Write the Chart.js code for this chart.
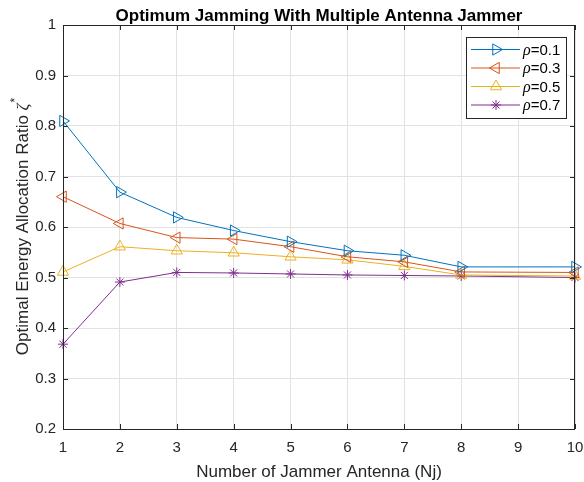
<!DOCTYPE html>
<html>
<head>
<meta charset="utf-8">
<script src="https://cdn.jsdelivr.net/npm/chart.js@4"></script>
<style>
html,body{margin:0;padding:0;background:#fff;}
#wrap{width:584px;height:482px;}
</style>
</head>
<body>
<div id="wrap"><canvas id="grafico" width="584" height="482"></canvas></div>
<script>
const antenas = [1, 2, 3, 4, 5, 6, 7, 8, 10];
const rho01 = [0.81, 0.669, 0.619, 0.593, 0.571, 0.553, 0.544, 0.521, 0.521];
const rho03 = [0.66, 0.607, 0.579, 0.576, 0.561, 0.541, 0.531, 0.511, 0.510];
const rho05 = [0.511, 0.561, 0.553, 0.549, 0.541, 0.535, 0.522, 0.505, 0.503];
const rho07 = [0.368, 0.491, 0.510, 0.509, 0.507, 0.505, 0.504, 0.503, 0.500];
const etiquetas = ["0.1", "0.3", "0.5", "0.7"];
const ticksX = [1, 2, 3, 4, 5, 6, 7, 8, 9, 10];
const ticksY = [0.2, 0.3, 0.4, 0.5, 0.6, 0.7, 0.8, 0.9, 1];

const colores = ["#0072BD", "#D95319", "#EDB120", "#7E2F8E"];
const simbolos = [
  {style: "triangle", rot: 90, r: 6.5},
  {style: "triangle", rot: -90, r: 6.5},
  {style: "triangle", rot: 0, r: 6.5},
  {style: "star", rot: 0, r: 5}
];
const series = [rho01, rho03, rho05, rho07];

const sans = "'Liberation Sans', Arial, Helvetica, sans-serif";
const ejeColor = "#262626";

function armarDataset(valores, i) {
  return {
    label: "\u03c1=" + etiquetas[i],
    data: antenas.map((n, k) => ({x: n, y: valores[k]})),
    borderColor: colores[i],
    borderWidth: 1,
    backgroundColor: "rgba(0,0,0,0)",
    pointStyle: simbolos[i].style,
    pointRotation: simbolos[i].rot,
    pointRadius: simbolos[i].r,
    pointHoverRadius: simbolos[i].r,
    pointBorderWidth: 1,
    pointBorderColor: colores[i],
    pointBackgroundColor: "rgba(0,0,0,0)",
    tension: 0
  };
}

// marco, ticks hacia adentro, titulos y leyenda estilo matlab
const marcoMatlab = {
  id: "marcoMatlab",
  afterDraw(chart) {
    const ctx = chart.ctx;
    const a = chart.chartArea;
    const sx = chart.scales.x;
    const sy = chart.scales.y;
    ctx.save();

    ctx.strokeStyle = ejeColor;
    ctx.lineWidth = 1;
    ctx.beginPath();
    ticksX.forEach(v => {
      const px = Math.round(sx.getPixelForValue(v)) + 0.5;
      ctx.moveTo(px, a.bottom); ctx.lineTo(px, a.bottom - 5);
      ctx.moveTo(px, a.top); ctx.lineTo(px, a.top + 5);
    });
    ticksY.forEach(v => {
      const py = Math.round(sy.getPixelForValue(v)) + 0.5;
      ctx.moveTo(a.left, py); ctx.lineTo(a.left + 5, py);
      ctx.moveTo(a.right, py); ctx.lineTo(a.right - 5, py);
    });
    ctx.stroke();
    ctx.strokeRect(Math.round(a.left) + 0.5, Math.round(a.top) + 0.5,
      Math.round(a.right - a.left) - 1, Math.round(a.bottom - a.top));

    // titulo
    ctx.fillStyle = "#000";
    ctx.textAlign = "center";
    ctx.textBaseline = "alphabetic";
    ctx.font = "bold 17px " + sans;
    ctx.fillText("Optimum Jamming With Multiple Antenna Jammer", (a.left + a.right) / 2, 21);

    // eje x
    ctx.fillStyle = ejeColor;
    ctx.font = "17px " + sans;
    ctx.fillText("Number of Jammer Antenna (Nj)", (a.left + a.right) / 2, 477);

    // eje y
    ctx.save();
    ctx.translate(28, (a.top + a.bottom) / 2);
    ctx.rotate(-Math.PI / 2);
    ctx.textAlign = "left";
    const t1 = "Optimal Energy Allocation Ratio ";
    ctx.font = "17px " + sans;
    const w1 = ctx.measureText(t1).width;
    ctx.font = "italic 17px 'Liberation Serif', serif";
    const w2 = ctx.measureText("\u03b6").width;
    ctx.font = "12px " + sans;
    const w3 = ctx.measureText("*").width;
    let x0 = -(w1 + w2 + w3) / 2;
    ctx.font = "17px " + sans;
    ctx.fillText(t1, x0, 0);
    ctx.font = "italic 17px 'Liberation Serif', serif";
    ctx.fillText("\u03b6", x0 + w1, 0);
    ctx.font = "12px " + sans;
    ctx.fillText("*", x0 + w1 + w2 + 1, -9);
    ctx.restore();

    // leyenda
    const lx = 466.5, ly = 37.5, lw = 100, lh = 81;
    ctx.fillStyle = "#fff";
    ctx.fillRect(lx, ly, lw, lh);
    ctx.strokeStyle = ejeColor;
    ctx.strokeRect(lx, ly, lw, lh);
    const filas = [49.5, 68, 86.5, 105];
    series.forEach((s, i) => {
      const yy = filas[i];
      ctx.strokeStyle = colores[i];
      ctx.lineWidth = 1;
      ctx.beginPath();
      ctx.moveTo(471, yy); ctx.lineTo(520, yy);
      ctx.stroke();
      ctx.fillStyle = "rgba(0,0,0,0)";
      Chart.helpers.drawPoint(ctx, {
        pointStyle: simbolos[i].style,
        rotation: simbolos[i].rot,
        radius: simbolos[i].r,
        borderWidth: 1
      }, 496, yy);
      ctx.fillStyle = "#000";
      ctx.textAlign = "left";
      ctx.textBaseline = "middle";
      ctx.font = "italic 16px 'Liberation Serif', serif";
      ctx.fillText("\u03c1", 523, yy + 1);
      const wr = ctx.measureText("\u03c1").width;
      ctx.font = "15px " + sans;
      ctx.fillText("=" + etiquetas[i], 523 + wr, yy + 1);
    });

    ctx.restore();
  }
};

new Chart(document.getElementById("grafico"), {
  type: "line",
  data: {datasets: series.map((s, i) => armarDataset(s, i))},
  options: {
    responsive: false,
    animation: false,
    clip: false,
    layout: {padding: {left: 0, right: 9, top: 25, bottom: 0}},
    plugins: {legend: {display: false}, tooltip: {enabled: false}, title: {display: false}},
    scales: {
      x: {
        type: "linear",
        min: 1,
        max: 10,
        afterFit: s => { s.height = 53; s.paddingLeft = 0; s.paddingRight = 0; },
        afterBuildTicks: s => { s.ticks = ticksX.map(v => ({value: v})); },
        grid: {color: "#e2e2e2", drawTicks: false},
        border: {display: false},
        ticks: {color: ejeColor, font: {size: 15, family: sans}, padding: 10, maxRotation: 0}
      },
      y: {
        type: "linear",
        min: 0.2,
        max: 1,
        afterFit: s => { s.width = 63; s.paddingTop = 0; s.paddingBottom = 0; },
        afterBuildTicks: s => { s.ticks = ticksY.map(v => ({value: v})); },
        grid: {color: "#e2e2e2", drawTicks: false},
        border: {display: false},
        ticks: {color: ejeColor, font: {size: 15, family: sans}, padding: 7,
          callback: v => String(Math.round(v * 10) / 10)}
      }
    }
  },
  plugins: [marcoMatlab]
});
</script>
</body>
</html>
